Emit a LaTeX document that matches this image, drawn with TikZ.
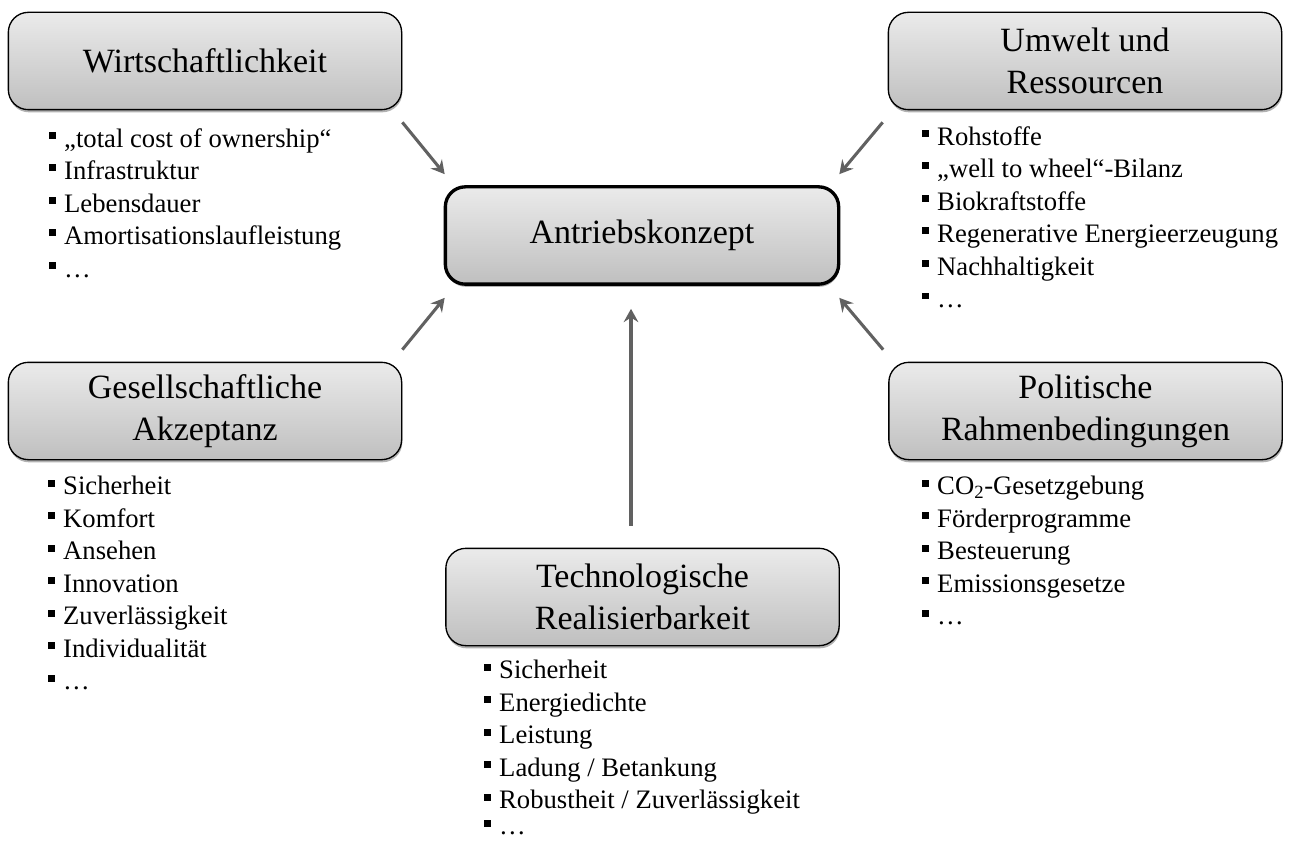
\documentclass[tikz,border=0pt]{standalone}
\usepackage{fontspec}
\setmainfont{Liberation Serif}
\usetikzlibrary{shadows,arrows.meta}

\newcommand{\bul}{\raisebox{6.2pt}{\rule{5.2pt}{5.2pt}}\hspace{6pt}}

\tikzset{
  kasten/.style={draw=black, line width=1pt, rounded corners=15pt,
    top color=gray!16, bottom color=gray!50,
    minimum width=295pt, minimum height=73pt, align=center,
    font=\fontsize{25.5}{31.5}\selectfont,
    drop shadow={shadow xshift=0.5pt, shadow yshift=-2pt, opacity=0.3, fill=black}},
  liste/.style={anchor=north west, inner sep=0pt, align=left,
    font=\fontsize{20}{24.4}\selectfont},
  pfeil/.style={draw=black!62, line width=2.3pt,
    -{Stealth[length=10pt, width=11pt, inset=3.5pt]}}
}

\begin{document}
\begin{tikzpicture}[x=0.75pt, y=-0.75pt]
\useasboundingbox (0,0) rectangle (1294,841);
% boxes
\node[kasten] (wirt) at (205,61) {Wirtschaftlichkeit};
\node[kasten] (umwelt) at (1085,61) {Umwelt und\\Ressourcen};
\node[kasten, line width=2.5pt] (antrieb) at (642,235.5) {Antriebskonzept};
\node[kasten] (gesell) at (205,411) {Gesellschaftliche\\Akzeptanz};
\node[kasten] (polit) at (1085.5,411) {Politische\\Rahmenbedingungen};
\node[kasten] (tech) at (642.5,597) {Technologische\\Realisierbarkeit};
% lists
\node[liste] (wirtliste) at (49,128) {\bul „total cost of ownership“\\ \bul Infrastruktur\\ \bul Lebensdauer\\ \bul Amortisationslaufleistung\\ \bul …};
\node[liste] (umweltliste) at (922,126) {\bul Rohstoffe\\ \bul „well to wheel“-Bilanz\\ \bul Biokraftstoffe\\ \bul Regenerative Energieerzeugung\\ \bul Nachhaltigkeit\\ \bul …};
\node[liste] (gesellliste) at (48,476) {\bul Sicherheit\\ \bul Komfort\\ \bul Ansehen\\ \bul Innovation\\ \bul Zuverlässigkeit\\ \bul Individualität\\ \bul …};
\node[liste] (politliste) at (922,476) {\bul CO\textsubscript{2}-Gesetzgebung\\ \bul Förderprogramme\\ \bul Besteuerung\\ \bul Emissionsgesetze\\ \bul …};
\node[liste] (techliste) at (484,660) {\bul Sicherheit\\ \bul Energiedichte\\ \bul Leistung\\ \bul Ladung / Betankung\\ \bul Robustheit / Zuverlässigkeit\\[-5pt] \bul …};
% arrows
\draw[pfeil] ([shift={(0,12)}]wirt.south east) -- ([shift={(1,-11)}]antrieb.north west);
\draw[pfeil] ([shift={(-5,12)}]umwelt.south west) -- ([shift={(-1,-11)}]antrieb.north east);
\draw[pfeil] ([shift={(0,-12)}]gesell.north east) -- ([shift={(1,12)}]antrieb.south west);
\draw[pfeil] ([shift={(-5,-12)}]polit.north west) -- ([shift={(-1,12)}]antrieb.south east);
\draw[pfeil] ([shift={(-11.5,-22)}]tech.north) -- ([shift={(-11,23)}]antrieb.south);
\end{tikzpicture}
\end{document}
